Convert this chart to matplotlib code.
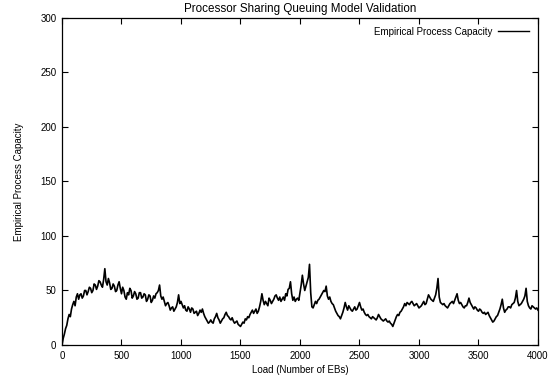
import numpy as np
import matplotlib as mpl
mpl.use('Agg')
import matplotlib.pyplot as plt

# Load steps (number of EBs), sampled every 10
load = np.arange(0, 4001, 10)

# Empirical process capacity at each load step
capacity = [
  # 0 - 400
  0, 6, 10, 15, 18, 24, 28, 26, 33, 37, 40, 36, 44, 47, 42, 46, 47, 43, 45, 50,
  50, 46, 49, 53, 52, 48, 50, 56, 55, 51, 54, 59, 58, 55, 53, 60, 70, 58, 55, 61,
  57,
  # 410 - 800
  51, 52, 56, 54, 49, 50, 55, 58, 52, 47, 53, 50, 44, 42, 48, 46, 52, 50, 43, 45,
  49, 47, 42, 43, 48, 48, 43, 44, 47, 46, 40, 42, 46, 45, 39, 41, 45, 43, 47, 48,
  # 810 - 1200
  50, 55, 45, 42, 44, 40, 36, 38, 39, 36, 32, 34, 35, 31, 33, 35, 39, 46, 38, 40,
  37, 34, 36, 32, 31, 35, 33, 30, 34, 33, 29, 30, 31, 27, 29, 32, 30, 33, 29, 26,
  # 1210 - 1600
  24, 22, 20, 21, 23, 21, 20, 24, 26, 29, 25, 23, 20, 22, 24, 25, 28, 30, 27, 26,
  24, 23, 25, 22, 20, 21, 22, 19, 18, 17, 19, 21, 20, 24, 23, 26, 25, 28, 30, 32,
  # 1610 - 2000
  29, 31, 33, 29, 31, 35, 40, 47, 41, 37, 40, 38, 36, 43, 41, 38, 40, 42, 45, 46,
  43, 41, 44, 40, 42, 44, 41, 47, 45, 51, 52, 58, 47, 41, 44, 40, 42, 43, 41, 48,
  # 2010 - 2400
  55, 64, 56, 50, 54, 58, 62, 74, 48, 35, 34, 37, 40, 38, 41, 42, 44, 46, 48, 50,
  49, 54, 45, 42, 44, 40, 38, 37, 34, 31, 29, 27, 26, 24, 27, 30, 34, 39, 35, 32,
  # 2410 - 2800
  36, 34, 32, 31, 33, 35, 32, 33, 36, 39, 35, 32, 33, 30, 28, 27, 28, 26, 25, 24,
  26, 25, 24, 23, 25, 28, 26, 24, 23, 22, 23, 24, 22, 21, 22, 20, 19, 17, 20, 23,
  # 2810 - 3200
  26, 28, 27, 30, 31, 33, 35, 38, 36, 39, 38, 37, 39, 40, 38, 36, 37, 38, 36, 34,
  35, 36, 38, 40, 37, 38, 42, 46, 44, 42, 41, 40, 43, 46, 52, 61, 44, 39, 38, 37,
  # 3210 - 3600
  38, 36, 35, 34, 36, 38, 39, 40, 38, 41, 44, 47, 41, 38, 39, 37, 35, 34, 36, 36,
  39, 43, 39, 37, 35, 33, 35, 34, 32, 31, 33, 32, 30, 29, 30, 28, 29, 30, 27, 25,
  # 3610 - 4000
  23, 21, 22, 24, 26, 27, 30, 33, 37, 42, 34, 30, 32, 33, 35, 35, 34, 37, 38, 39,
  43, 50, 40, 36, 37, 38, 40, 42, 45, 52, 40, 36, 34, 33, 36, 35, 34, 33, 34, 32,
]

xticks = np.arange(0, 4001, 500)
yticks = np.arange(0, 301, 50)

plt.rcParams['font.family'] = ['Liberation Sans', 'DejaVu Sans']
plt.rcParams['font.size'] = 7

fg = plt.figure(figsize=(5.56, 3.81), dpi=100)
ax = fg.add_axes([0.1115, 0.0945, 0.8561, 0.8583])

ax.plot(load, capacity, color='black', lw=1.2, label='Empirical Process Capacity')

ax.set_xlim(0, 4000)
ax.set_ylim(0, 300)
ax.set_xticks(xticks)
ax.set_yticks(yticks)
ax.tick_params(direction='in', top=True, right=True, length=4, width=0.8, pad=4)
for s in ax.spines.values():
  s.set_linewidth(0.9)

ax.set_xlabel('Load (Number of EBs)', labelpad=3)
ax.set_ylabel('Empirical Process Capacity', labelpad=12)
ax.set_title('Processor Sharing Queuing Model Validation', pad=4)

# Legend with the sample line to the right of the text
leg = ax.legend(loc='upper right', frameon=False, markerfirst=False, handlelength=3.2,
                borderaxespad=0.5, handletextpad=0.6)
leg.get_lines()[0].set_linewidth(1.0)

fg.savefig('out.png', dpi=100)
